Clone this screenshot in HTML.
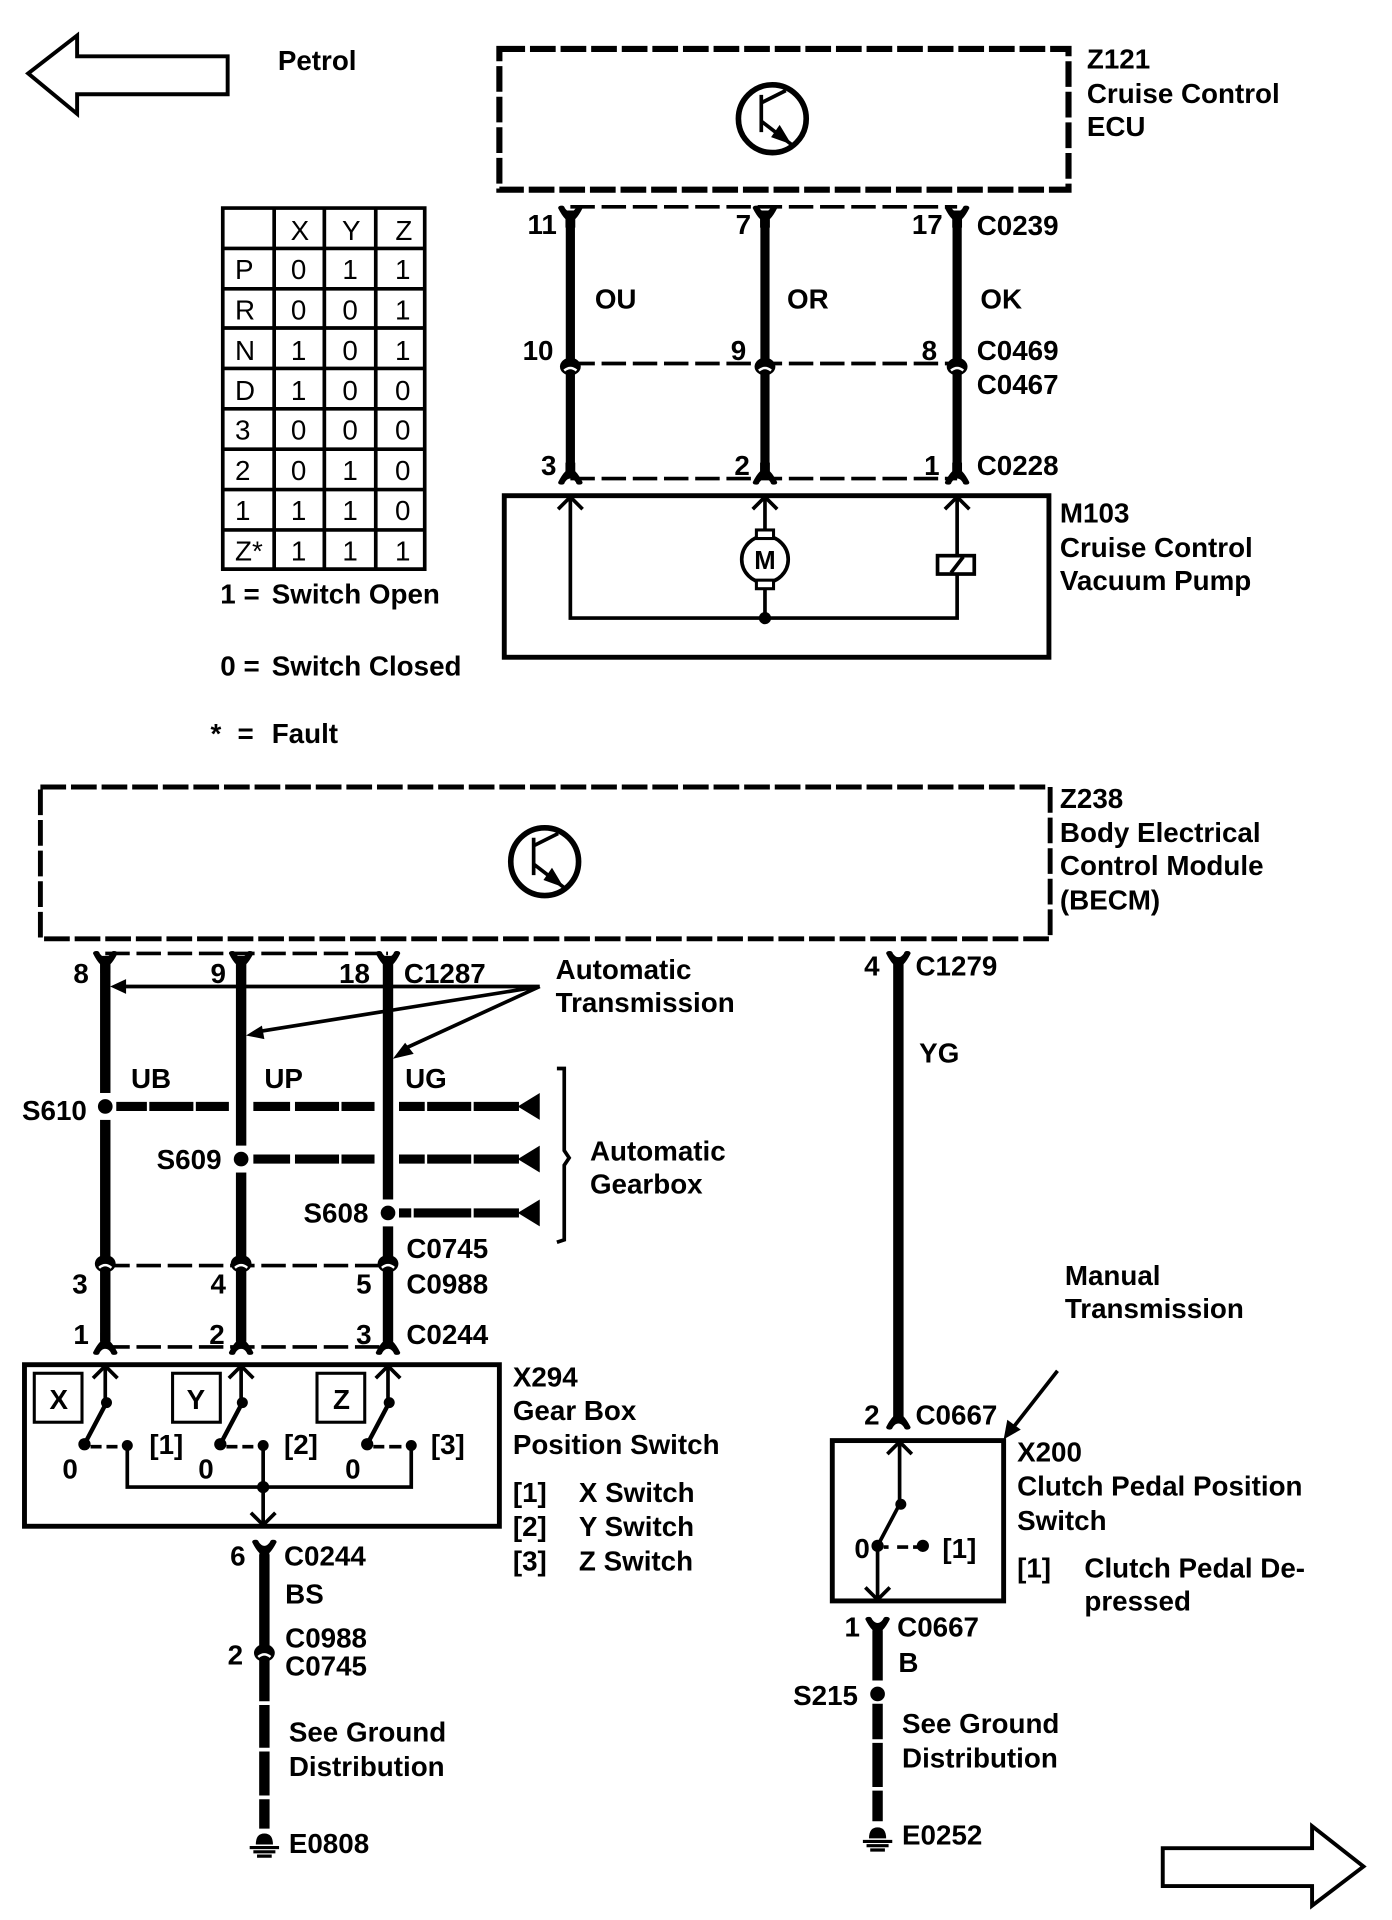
<!DOCTYPE html>
<html><head><meta charset="utf-8"><title>Wiring diagram</title>
<style>
html,body{margin:0;padding:0;background:#fff}
svg{display:block}
text{font-family:"Liberation Sans",Arial,sans-serif;font-weight:bold;font-size:22.7px;fill:#000}
.r{font-weight:normal;font-size:22.7px}
.c{text-anchor:middle}
.t{fill:none;stroke:#000;stroke-width:3}
.w{fill:none;stroke:#000;stroke-width:7.5}
.w2{fill:none;stroke:#000;stroke-width:8.5}
.d{fill:none;stroke:#000;stroke-width:3;stroke-dasharray:20 5.5}
.h{fill:none;stroke:#000;stroke-width:7.5}
</style></head><body>
<svg xmlns="http://www.w3.org/2000/svg" width="1392" height="1920" viewBox="0 0 1137.3 1568.7">
<defs>
<path id="ft" d="M-10,-3 Q-10,-5 -7,-5 Q-5,-5 -4.5,-3 Q-2.5,0 0,0 Q2.5,0 4.5,-3 Q5,-5 7,-5 Q10,-5 10,-3 Q7,3 4,6 L4,13 L-4,13 L-4,6 Q-7,3 -10,-3 Z" fill="#000"/>
<g id="cm"><ellipse cx="0" cy="-1.5" rx="8.5" ry="7.2" fill="#000"/><path d="M-5,1.8 Q0,-2.5 5,1.8" fill="none" stroke="#fff" stroke-width="2"/></g>
<path id="ch" d="M-10,10 L0,0 L10,10" fill="none" stroke="#000" stroke-width="3"/>
<g id="tr"><circle cx="0" cy="0" r="27.7" fill="none" stroke="#000" stroke-width="4.6"/>
<path d="M-9,-19.5 V11 M-9,-13 L11,-23 M-9,2 L15.6,21" fill="none" stroke="#000" stroke-width="3"/>
<path d="M15.6,21 L-1,15 L6,5 Z" fill="#000"/></g>
<g id="gnd"><path d="M-7,8 Q-7,-1 0,-1 Q7,-1 7,8 Z" fill="#000"/><path d="M-12,10.5 H12 M-9,14 H9 M-6,17.5 H6" stroke="#000" stroke-width="2.6" fill="none"/></g>
<path id="tri" d="M0,0 L18,-11 V11 Z" fill="#000"/>
</defs>

<!-- arrows -->
<path d="M23,60 L63,29 V46 H186 V77 H63 V93 Z" fill="#fff" stroke="#000" stroke-width="3.2"/>
<path d="M950,1510 H1072 V1492 L1114,1525 L1072,1557 V1541 H950 Z" fill="#fff" stroke="#000" stroke-width="3.2"/>
<text x="227" y="57">Petrol</text>

<!-- Z121 -->
<rect x="408" y="40" width="465" height="115" fill="none" stroke="#000" stroke-width="5" stroke-dasharray="21 4"/>
<use href="#tr" x="631" y="97"/>
<text x="888" y="56">Z121</text><text x="888" y="84">Cruise Control</text><text x="888" y="111">ECU</text>

<!-- table -->
<path class="t" d="M182,170 H347 V465 H182 Z M224,170 V465 M265,170 V465 M307,170 V465 M182,203 H347 M182,236 H347 M182,268 H347 M182,301 H347 M182,334 H347 M182,367 H347 M182,400 H347 M182,433 H347"/>
<g class="r">
<text class="r c" x="245" y="196">X</text><text class="r c" x="287" y="196">Y</text><text class="r c" x="330" y="196">Z</text>
<text class="r" x="192" y="228">P</text><text class="r c" x="244" y="228">0</text><text class="r c" x="286" y="228">1</text><text class="r c" x="329" y="228">1</text>
<text class="r" x="192" y="261">R</text><text class="r c" x="244" y="261">0</text><text class="r c" x="286" y="261">0</text><text class="r c" x="329" y="261">1</text>
<text class="r" x="192" y="294">N</text><text class="r c" x="244" y="294">1</text><text class="r c" x="286" y="294">0</text><text class="r c" x="329" y="294">1</text>
<text class="r" x="192" y="327">D</text><text class="r c" x="244" y="327">1</text><text class="r c" x="286" y="327">0</text><text class="r c" x="329" y="327">0</text>
<text class="r" x="192" y="359">3</text><text class="r c" x="244" y="359">0</text><text class="r c" x="286" y="359">0</text><text class="r c" x="329" y="359">0</text>
<text class="r" x="192" y="392">2</text><text class="r c" x="244" y="392">0</text><text class="r c" x="286" y="392">1</text><text class="r c" x="329" y="392">0</text>
<text class="r" x="192" y="425">1</text><text class="r c" x="244" y="425">1</text><text class="r c" x="286" y="425">1</text><text class="r c" x="329" y="425">0</text>
<text class="r" x="192" y="458">Z*</text><text class="r c" x="244" y="458">1</text><text class="r c" x="286" y="458">1</text><text class="r c" x="329" y="458">1</text>
</g>
<text x="180" y="493">1 =</text><text x="222" y="493">Switch Open</text>
<text x="180" y="552">0 =</text><text x="222" y="552">Switch Closed</text>
<text x="172" y="607">*</text><text x="194" y="607">=</text><text x="222" y="607">Fault</text>

<!-- top wires -->
<path class="d" d="M466,169 H782 M466,297 H782 M466,391 H782"/>
<path class="w" d="M466,172 V388 M625,172 V388 M782,172 V388"/>
<use href="#ft" x="466" y="173"/><use href="#ft" x="625" y="173"/><use href="#ft" x="782" y="173"/>
<use href="#cm" x="466" y="301"/><use href="#cm" x="625" y="301"/><use href="#cm" x="782" y="301"/>
<g transform="translate(0,780) scale(1,-1)"><use href="#ft" x="466" y="389"/><use href="#ft" x="625" y="389"/><use href="#ft" x="782" y="389"/></g>
<text x="431" y="191">11</text><text x="601" y="191">7</text><text x="745" y="191">17</text><text x="798" y="192">C0239</text>
<text x="486" y="252">OU</text><text x="643" y="252">OR</text><text x="801" y="252">OK</text>
<text x="427" y="294">10</text><text x="597" y="294">9</text><text x="753" y="294">8</text><text x="798" y="294">C0469</text><text x="798" y="322">C0467</text>
<text x="442" y="388">3</text><text x="600" y="388">2</text><text x="755" y="388">1</text><text x="798" y="388">C0228</text>

<!-- M103 -->
<rect x="412" y="405" width="445" height="132" fill="none" stroke="#000" stroke-width="4"/>
<path class="t" d="M466,406 V505 H782 V406 M625,406 V432 M625,480 V505"/>
<use href="#ch" x="466" y="406"/><use href="#ch" x="625" y="406"/><use href="#ch" x="782" y="406"/>
<circle cx="625" cy="457" r="19" fill="#fff" stroke="#000" stroke-width="3"/>
<rect x="618" y="433" width="14" height="7" fill="#fff" stroke="#000" stroke-width="2.5"/>
<rect x="618" y="474" width="14" height="7" fill="#fff" stroke="#000" stroke-width="2.5"/>
<text class="c" x="625" y="465" style="font-size:21px">M</text>
<rect x="766" y="454" width="30" height="15" fill="#fff" stroke="#000" stroke-width="3"/>
<path class="t" d="M777,468 L787,455"/>
<circle cx="625" cy="505" r="5" fill="#000"/>
<text x="866" y="427">M103</text><text x="866" y="455">Cruise Control</text><text x="866" y="482">Vacuum Pump</text>

<!-- Z238 -->
<rect x="33" y="643" width="825" height="124" fill="none" stroke="#000" stroke-width="4" stroke-dasharray="21 4"/>
<use href="#tr" x="445" y="704"/>
<text x="866" y="660">Z238</text><text x="866" y="688">Body Electrical</text><text x="866" y="715">Control Module</text><text x="866" y="743">(BECM)</text>

<!-- lower left wires -->
<path class="d" d="M86,779 H317 M86,1034 H317 M86,1100.5 H317"/>
<path class="w2" d="M86,781 V1096 M197,781 V1096 M317,781 V1096"/>
<use href="#ft" x="86" y="782"/><use href="#ft" x="197" y="782"/><use href="#ft" x="317" y="782"/>
<use href="#cm" x="86" y="1034"/><use href="#cm" x="197" y="1034"/><use href="#cm" x="317" y="1034"/>
<g transform="translate(0,2199) scale(1,-1)"><use href="#ft" x="86" y="1097"/><use href="#ft" x="197" y="1097"/><use href="#ft" x="317" y="1097"/></g>
<text x="60" y="803">8</text><text x="172" y="803">9</text><text x="277" y="803">18</text><text x="330" y="803">C1287</text>
<text x="454" y="800">Automatic</text><text x="454" y="827">Transmission</text>
<path d="M441,806 H100 M441,806 L210,843 M441,806 L330,857" class="t"/>
<path d="M90,806 L103,800 V812 Z M201,846 L214,838 L216,849 Z M321,865 L331,852 L338,861 Z" fill="#000"/>

<!-- harness branches -->
<rect x="80" y="893" width="12" height="22" fill="#fff"/><rect x="191" y="936" width="12" height="22" fill="#fff"/><rect x="311" y="980" width="12" height="22" fill="#fff"/>
<circle cx="86" cy="904" r="6" fill="#000"/><circle cx="197" cy="947" r="6" fill="#000"/><circle cx="317" cy="991" r="6" fill="#000"/>
<path class="h" d="M95,904 H120 M122,904 H158 M160,904 H187 M207,904 H237 M241,904 H277 M279,904 H306 M326,904 H347 M349,904 H385 M387,904 H424"/>
<path class="h" d="M207,947 H237 M241,947 H277 M279,947 H306 M326,947 H347 M349,947 H385 M387,947 H424"/>
<path class="h" d="M326,991 H336 M338,991 H385 M387,991 H424"/>
<use href="#tri" x="423" y="904"/><use href="#tri" x="423" y="947"/><use href="#tri" x="423" y="991"/>
<path d="M455,873 H461 V940 L465,946 L461,952 V1013 L455,1015" fill="none" stroke="#000" stroke-width="3"/>
<text x="107" y="889">UB</text><text x="216" y="889">UP</text><text x="331" y="889">UG</text>
<text x="18" y="915">S610</text><text x="128" y="955">S609</text><text x="248" y="999">S608</text>
<text x="482" y="948">Automatic</text><text x="482" y="975">Gearbox</text>
<text x="332" y="1028">C0745</text>
<text x="59" y="1057">3</text><text x="172" y="1057">4</text><text x="291" y="1057">5</text><text x="332" y="1057">C0988</text>
<text x="60" y="1098">1</text><text x="171" y="1098">2</text><text x="291" y="1098">3</text><text x="332" y="1098">C0244</text>

<!-- X294 -->
<rect x="20" y="1115" width="388" height="132" fill="none" stroke="#000" stroke-width="4"/>
<path class="t" d="M86,1116 V1146 M197,1116 V1146 M317,1116 V1146"/>
<use href="#ch" x="86" y="1116"/><use href="#ch" x="197" y="1116"/><use href="#ch" x="317" y="1116"/>
<rect x="28" y="1122" width="39" height="40" fill="none" stroke="#000" stroke-width="2.5"/>
<rect x="141" y="1122" width="39" height="40" fill="none" stroke="#000" stroke-width="2.5"/>
<rect x="259" y="1122" width="39" height="40" fill="none" stroke="#000" stroke-width="2.5"/>
<text class="c" x="48" y="1151">X</text><text class="c" x="160" y="1151">Y</text><text class="c" x="279" y="1151">Z</text>
<g fill="#000">
<circle cx="87" cy="1146" r="4.5"/><circle cx="69" cy="1180" r="5"/><circle cx="104" cy="1181" r="4.5"/>
<circle cx="198" cy="1146" r="4.5"/><circle cx="180" cy="1180" r="5"/><circle cx="215" cy="1181" r="4.5"/>
<circle cx="318" cy="1146" r="4.5"/><circle cx="300" cy="1180" r="5"/><circle cx="336" cy="1181" r="4.5"/>
<circle cx="215" cy="1215" r="5"/>
</g>
<path class="t" style="stroke-width:3.6" d="M87,1146 L69,1180 M198,1146 L180,1180 M318,1146 L300,1180"/>
<path class="t" d="M74,1182 H83 M87,1182 H96 M185,1182 H194 M198,1182 H207 M305,1182 H314 M318,1182 H328"/>
<path class="t" d="M104,1181 V1215 H336 V1181 M215,1181 V1246"/>
<path d="M205,1236 L215,1246 L225,1236" class="t"/>
<text x="122" y="1188">[1]</text><text x="232" y="1188">[2]</text><text x="352" y="1188">[3]</text>
<text x="51" y="1208">0</text><text x="162" y="1208">0</text><text x="282" y="1208">0</text>
<text x="419" y="1133">X294</text><text x="419" y="1160">Gear Box</text><text x="419" y="1188">Position Switch</text>
<text x="419" y="1227">[1]</text><text x="473" y="1227">X Switch</text>
<text x="419" y="1255">[2]</text><text x="473" y="1255">Y Switch</text>
<text x="419" y="1283">[3]</text><text x="473" y="1283">Z Switch</text>

<!-- below X294 -->
<use href="#ft" x="216" y="1263"/>
<path class="w2" d="M216,1270 V1390 M216,1393 V1428 M216,1431 V1467 M216,1470 V1494"/>
<use href="#cm" x="216" y="1352"/>
<use href="#gnd" x="216" y="1499"/>
<text x="188" y="1279">6</text><text x="232" y="1279">C0244</text><text x="233" y="1310">BS</text>
<text x="233" y="1346">C0988</text><text x="186" y="1360">2</text><text x="233" y="1369">C0745</text>
<text x="236" y="1423">See Ground</text><text x="236" y="1451">Distribution</text><text x="236" y="1514">E0808</text>

<!-- right wire -->
<use href="#ft" x="734" y="782"/>
<path class="w2" d="M734,787 V1158"/>
<g transform="translate(0,2326) scale(1,-1)"><use href="#ft" x="734" y="1163"/></g>
<text x="706" y="797">4</text><text x="748" y="797">C1279</text><text x="751" y="868">YG</text>
<text x="870" y="1050">Manual</text><text x="870" y="1077">Transmission</text>
<path class="t" d="M864,1120 L828,1166"/>
<path d="M820,1176 L823,1160 L834,1168 Z" fill="#000"/>
<text x="706" y="1164">2</text><text x="748" y="1164">C0667</text>

<!-- X200 -->
<rect x="680" y="1177" width="140" height="131" fill="none" stroke="#000" stroke-width="4"/>
<path class="t" d="M735,1178 V1229 L717,1263 V1307"/>
<use href="#ch" x="735" y="1178"/>
<path class="t" d="M707,1297 L717,1307 L727,1297"/>
<circle cx="736" cy="1229" r="4.5" fill="#000"/><circle cx="717" cy="1263" r="5" fill="#000"/><circle cx="754" cy="1263" r="5" fill="#000"/>
<path class="t" d="M722,1264 H726 M733,1264 H742 M746,1264 H752"/>
<text x="698" y="1273">0</text><text x="770" y="1273">[1]</text>
<text x="831" y="1194">X200</text><text x="831" y="1222">Clutch Pedal Position</text><text x="831" y="1250">Switch</text>
<text x="831" y="1289">[1]</text><text x="886" y="1289">Clutch Pedal De-</text><text x="886" y="1316">pressed</text>

<!-- below X200 -->
<use href="#ft" x="717" y="1326"/>
<path class="w2" d="M717,1332 V1373 M717,1392 V1421 M717,1424 V1460 M717,1463 V1488"/>
<circle cx="717" cy="1384" r="6" fill="#000"/>
<use href="#gnd" x="717" y="1494"/>
<text x="690" y="1337">1</text><text x="733" y="1337">C0667</text><text x="734" y="1366">B</text>
<text x="648" y="1393">S215</text><text x="737" y="1416">See Ground</text><text x="737" y="1444">Distribution</text><text x="737" y="1507">E0252</text>
</svg>
</body></html>
